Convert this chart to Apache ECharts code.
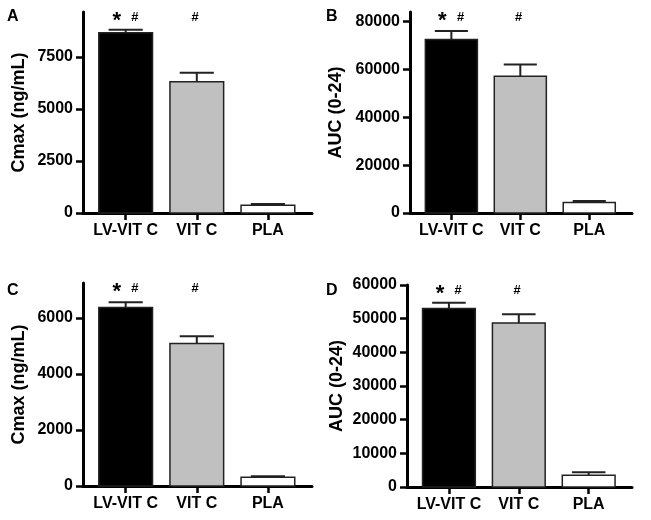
<!DOCTYPE html>
<html>
<head>
<meta charset="utf-8">
<script src="https://cdn.jsdelivr.net/npm/echarts@6/dist/echarts.min.js"></script>
<style>
  html, body { margin: 0; padding: 0; background: #fff; }
  #chart { width: 651px; height: 520px; }
</style>
</head>
<body>
<div id="chart"></div>
<script>
// groups on the x axis
var categories = ["LV-VIT C", "VIT C", "PLA"];

// panel A: Cmax (ng/mL)
var cmaxA = [8650, 6300, 370];
var cmaxASem = [150, 430, 60];
var ticksA = [0, 2500, 5000, 7500];

// panel B: AUC (0-24)
var aucB = [72500, 57200, 4400];
var aucBSem = [3600, 4900, 600];
var ticksB = [0, 20000, 40000, 60000, 80000];

// panel C: Cmax (ng/mL)
var cmaxC = [6370, 5080, 310];
var cmaxCSem = [180, 260, 40];
var ticksC = [0, 2000, 4000, 6000];

// panel D: AUC (0-24)
var aucD = [53000, 48700, 3500];
var aucDSem = [1700, 2600, 900];
var ticksD = [0, 10000, 20000, 30000, 40000, 50000, 60000];

// significance marks above the bars
var stars = ["*", "", ""];
var hashes = ["#", "#", ""];

var fills = ["#000000", "#c0c0c0", "#ffffff"];
var FONT = "Liberation Sans, Arial, Helvetica, sans-serif";

var chart = echarts.init(document.getElementById("chart"), null, { renderer: "canvas" });

var grids = [
  { left: 83, top: 12, width: 229, height: 201 },
  { left: 410, top: 12, width: 222, height: 201 },
  { left: 83, top: 283, width: 229, height: 203 },
  { left: 407, top: 285, width: 225, height: 202 }
];

var panels = [
  { mean: cmaxA, sem: cmaxASem, max: 9650, ticks: ticksA, name: "Cmax (ng/mL)", gap: 55 },
  { mean: aucB, sem: aucBSem, max: 84000, ticks: ticksB, name: "AUC (0-24)", gap: 65 },
  { mean: cmaxC, sem: cmaxCSem, max: 7240, ticks: ticksC, name: "Cmax (ng/mL)", gap: 55 },
  { mean: aucD, sem: aucDSem, max: 60000, ticks: ticksD, name: "AUC (0-24)", gap: 61 }
];

var xAxes = [], yAxes = [], series = [];

panels.forEach(function(p, k) {
  xAxes.push({
    type: "value",
    gridIndex: k,
    min: -0.6,
    max: 2.62,
    splitLine: { show: false },
    axisLine: { show: true, onZero: false, lineStyle: { color: "#000", width: 3 } },
    axisTick: { show: true, length: 7, customValues: [0, 1, 2], lineStyle: { color: "#000", width: 2.5 } },
    axisLabel: {
      customValues: [0, 1, 2],
      margin: 10,
      fontFamily: FONT,
      fontWeight: "bold",
      fontSize: 16,
      color: "#000",
      formatter: function(v) { return categories[Math.round(v)]; }
    }
  });
  yAxes.push({
    type: "value",
    gridIndex: k,
    min: 0,
    max: p.max,
    name: p.name,
    nameLocation: "middle",
    nameGap: p.gap,
    nameTextStyle: { fontFamily: FONT, fontWeight: "bold", fontSize: 18, color: "#000" },
    splitLine: { show: false },
    axisLine: { show: true, onZero: false, lineStyle: { color: "#000", width: 3 } },
    axisTick: { show: true, length: 7, customValues: p.ticks, lineStyle: { color: "#000", width: 2.5 } },
    axisLabel: {
      customValues: p.ticks,
      margin: 10,
      fontFamily: FONT,
      fontWeight: "bold",
      fontSize: 16,
      color: "#000",
      formatter: function(v) { return String(v); }
    }
  });

  var data = p.mean.map(function(m, i) { return [i, m, p.sem[i]]; });

  series.push({
    type: "custom",
    xAxisIndex: k,
    yAxisIndex: k,
    clip: false,
    data: data,
    renderItem: function(params, api) {
      var i = api.value(0);
      var mean = api.value(1);
      var sem = api.value(2);
      var base = api.coord([i, 0]);
      var top = api.coord([i, mean]);
      var errTop = api.coord([i, mean + sem]);
      var axisTop = api.coord([i, p.max]);
      var w = api.size([0.755, 0])[0];
      var cw = api.size([0.48, 0])[0];
      var children = [
        {
          type: "rect",
          shape: { x: base[0] - w / 2, y: top[1], width: w, height: base[1] - top[1] },
          style: { fill: fills[i], stroke: "#222", lineWidth: 1.5 }
        },
        {
          type: "line",
          shape: { x1: top[0], y1: top[1], x2: top[0], y2: errTop[1] },
          style: { stroke: "#222", lineWidth: 2 }
        },
        {
          type: "line",
          shape: { x1: top[0] - cw / 2, y1: errTop[1], x2: top[0] + cw / 2, y2: errTop[1] },
          style: { stroke: "#222", lineWidth: 2 }
        }
      ];
      if (stars[i]) {
        children.push({
          type: "text",
          x: top[0] - 9,
          y: axisTop[1] + 9,
          style: { text: stars[i], fontFamily: FONT, fontWeight: "bold", fontSize: 22,
            fill: "#000", align: "center", verticalAlign: "middle" }
        });
      }
      if (hashes[i]) {
        children.push({
          type: "text",
          x: top[0] + (stars[i] ? 9 : -2),
          y: axisTop[1] + 5,
          style: { text: hashes[i], fontFamily: FONT, fontWeight: "bold", fontStyle: "italic", fontSize: 13,
            fill: "#000", align: "center", verticalAlign: "middle" }
        });
      }
      return { type: "group", children: children };
    }
  });
});

chart.setOption({
  animation: false,
  backgroundColor: "#fff",
  title: [
    { text: "A", left: 7, top: 9 },
    { text: "B", left: 326, top: 9 },
    { text: "C", left: 7, top: 283 },
    { text: "D", left: 326, top: 283 }
  ].map(function(t) {
    t.padding = 0;
    t.textStyle = { fontFamily: FONT, fontWeight: "bold", fontSize: 16, color: "#000" };
    return t;
  }),
  grid: grids,
  xAxis: xAxes,
  yAxis: yAxes,
  series: series
});
</script>
</body>
</html>
